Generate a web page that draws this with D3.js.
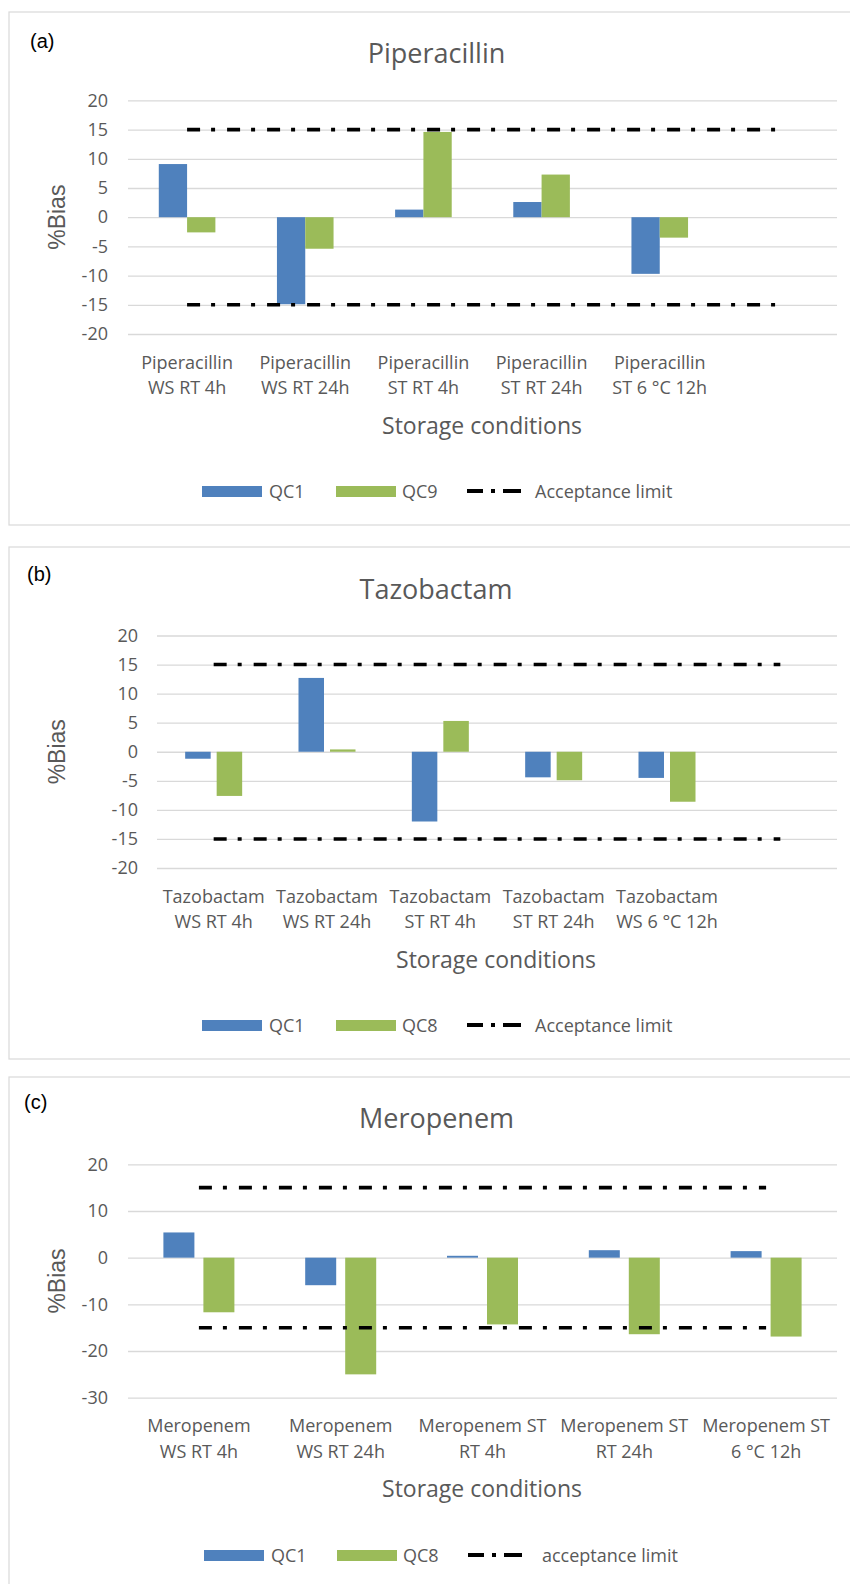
<!DOCTYPE html>
<html lang="en">
<head>
    <meta charset="UTF-8">
    <title>%Bias by storage condition</title>
    <style>
        body { margin: 0; background: #fff; }
        svg text { font-family: "Open Sans", sans-serif; fill: #595959; }
    </style>
</head>
<body>
    <div id="chart"></div>
    <script src="https://d3js.org/d3.v7.min.js"></script>
    <script>
        // ---- data ----
        const pipCategories = [
            ["Piperacillin", "WS RT 4h"], ["Piperacillin", "WS RT 24h"], ["Piperacillin", "ST RT 4h"],
            ["Piperacillin", "ST RT 24h"], ["Piperacillin", "ST 6 °C 12h"], ["", ""]
        ];
        const pipQC1 = [9.1, -14.9, 1.3, 2.6, -9.7];
        const pipQC9 = [-2.6, -5.4, 14.6, 7.3, -3.5];
        const pipUpper = [15, 15, 15, 15, 15, 15];
        const pipLower = [-15, -15, -15, -15, -15, -15];
        const pipTicks = [20, 15, 10, 5, 0, -5, -10, -15, -20];

        const tazCategories = [
            ["Tazobactam", "WS RT 4h"], ["Tazobactam", "WS RT 24h"], ["Tazobactam", "ST RT 4h"],
            ["Tazobactam", "ST RT 24h"], ["Tazobactam", "WS 6 °C 12h"], ["", ""]
        ];
        const tazQC1 = [-1.2, 12.7, -12.0, -4.4, -4.5];
        const tazQC8 = [-7.6, 0.4, 5.3, -4.9, -8.6];
        const tazUpper = [15, 15, 15, 15, 15, 15];
        const tazLower = [-15, -15, -15, -15, -15, -15];
        const tazTicks = [20, 15, 10, 5, 0, -5, -10, -15, -20];

        const merCategories = [
            ["Meropenem", "WS RT 4h"], ["Meropenem", "WS RT 24h"], ["Meropenem ST", "RT 4h"],
            ["Meropenem ST", "RT 24h"], ["Meropenem ST", "6 °C 12h"]
        ];
        const merQC1 = [5.4, -5.9, 0.4, 1.6, 1.4];
        const merQC8 = [-11.7, -25.0, -14.3, -16.4, -16.9];
        const merUpper = [15, 15, 15, 15, 15];
        const merLower = [-15, -15, -15, -15, -15];
        const merTicks = [20, 10, 0, -10, -20, -30];

        const blue = "#4f81bd";
        const green = "#9bbb59";

        const svg = d3.select("#chart")
            .append("svg")
            .attr("width", 850)
            .attr("height", 1584);

        function drawPanel(p) {
            const g = svg.append("g");

            g.append("rect")
                .attr("x", 9).attr("y", p.boxTop)
                .attr("width", 860).attr("height", p.boxBottom - p.boxTop)
                .attr("fill", "none").attr("stroke", "#d9d9d9").attr("stroke-width", 1.2);

            g.append("text")
                .attr("x", p.tagX).attr("y", p.tagY)
                .attr("dominant-baseline", "central")
                .style("font-family", "'Liberation Sans', Arial, sans-serif")
                .style("font-size", "20px").style("fill", "#000")
                .text(p.tag);

            const x = d3.scaleBand()
                .domain(d3.range(p.categories.length))
                .range([p.left, p.right]);
            const y = d3.scaleLinear()
                .domain(p.domain)
                .range([p.bottom, p.top]);

            g.append("text")
                .attr("x", (p.left + p.right) / 2 - p.titleShift).attr("y", p.titleY)
                .attr("text-anchor", "middle").attr("dominant-baseline", "central")
                .style("font-size", "27px")
                .text(p.title);

            // gridlines + tick labels
            const axis = g.append("g")
                .attr("transform", `translate(${p.left},0)`)
                .call(d3.axisLeft(y)
                    .tickValues(p.ticks)
                    .tickSize(-(p.right - p.left))
                    .tickPadding(p.left - p.labelRight)
                    .tickFormat(d => String(d)));
            axis.select(".domain").remove();
            axis.selectAll("line").attr("stroke", "#d9d9d9").attr("stroke-width", 1.3);
            axis.selectAll("text")
                .style("font-family", "'Open Sans', sans-serif")
                .style("font-size", "18px").attr("fill", "#595959");

            // bars
            const pairW = 2 * p.barW + p.barGap;
            const series = [{vals: p.qc1, color: blue, off: 0}, {vals: p.qc2, color: green, off: p.barW + p.barGap}];
            series.forEach(s => {
                g.selectAll(null)
                    .data(s.vals)
                    .enter()
                    .append("rect")
                    .attr("x", (d, i) => x(i) + x.bandwidth() / 2 - pairW / 2 + s.off)
                    .attr("width", p.barW)
                    .attr("y", d => y(Math.max(0, d)))
                    .attr("height", d => Math.abs(y(d) - y(0)))
                    .attr("fill", s.color);
            });

            // acceptance limits
            const line = d3.line()
                .x((d, i) => x(i) + x.bandwidth() / 2)
                .y(d => y(d));
            [p.upper, p.lower].forEach(lim => {
                g.append("path")
                    .datum(lim)
                    .attr("d", line)
                    .attr("fill", "none")
                    .attr("stroke", "#000")
                    .attr("stroke-width", 3.6)
                    .attr("stroke-dasharray", "13,11,4,12");
            });

            // category labels
            const cats = g.selectAll(null)
                .data(p.categories)
                .enter()
                .append("text")
                .attr("text-anchor", "middle")
                .style("font-size", "18px");
            cats.append("tspan")
                .attr("x", (d, i) => x(i) + x.bandwidth() / 2)
                .attr("y", p.catY1)
                .attr("dominant-baseline", "central")
                .text(d => d[0]);
            cats.append("tspan")
                .attr("x", (d, i) => x(i) + x.bandwidth() / 2)
                .attr("y", p.catY2)
                .attr("dominant-baseline", "central")
                .text(d => d[1]);

            g.append("text")
                .attr("x", p.axisTitleX).attr("y", p.axisTitleY)
                .attr("text-anchor", "middle").attr("dominant-baseline", "central")
                .style("font-size", "23px")
                .text("Storage conditions");

            g.append("text")
                .attr("transform", `translate(57,${y(p.yTitleAt)}) rotate(-90)`)
                .attr("text-anchor", "middle").attr("dominant-baseline", "central")
                .style("font-family", "'Liberation Sans', Arial, sans-serif")
                .style("font-size", "23px")
                .text("%Bias");

            // legend
            const lg = g.append("g").attr("transform", `translate(0,${p.legendY})`);
            lg.append("rect").attr("x", p.legX[0]).attr("y", -5).attr("width", 60).attr("height", 11).attr("fill", blue);
            lg.append("text").attr("x", p.legX[0] + 67).attr("y", 0).attr("dominant-baseline", "central")
                .style("font-size", "18px").text("QC1");
            lg.append("rect").attr("x", p.legX[1]).attr("y", -5).attr("width", 60).attr("height", 11).attr("fill", green);
            lg.append("text").attr("x", p.legX[1] + 66).attr("y", 0).attr("dominant-baseline", "central")
                .style("font-size", "18px").text(p.qc2Name);
            lg.append("line").attr("x1", p.legX[2]).attr("x2", p.legX[2] + 54).attr("y1", 0).attr("y2", 0)
                .attr("stroke", "#000").attr("stroke-width", 4).attr("stroke-dasharray", "16,8,4,8,18");
            lg.append("text").attr("x", p.legX[3]).attr("y", 0).attr("dominant-baseline", "central")
                .style("font-size", "18px").text(p.limitName);
        }

        drawPanel({
            tag: "(a)", tagX: 30, tagY: 41, title: "Piperacillin", titleY: 52, titleShift: 46,
            boxTop: 12, boxBottom: 525,
            categories: pipCategories, qc1: pipQC1, qc2: pipQC9, qc2Name: "QC9",
            upper: pipUpper, lower: pipLower, ticks: pipTicks, domain: [-20, 20], yTitleAt: 0,
            left: 128, right: 837, top: 100.4, bottom: 334, labelRight: 108,
            barW: 28.3, barGap: 0,
            catY1: 362, catY2: 387, axisTitleX: 482, axisTitleY: 425,
            legendY: 491, legX: [202, 336, 467, 535], limitName: "Acceptance limit"
        });

        drawPanel({
            tag: "(b)", tagX: 27, tagY: 574, title: "Tazobactam", titleY: 588, titleShift: 61,
            boxTop: 547, boxBottom: 1059,
            categories: tazCategories, qc1: tazQC1, qc2: tazQC8, qc2Name: "QC8",
            upper: tazUpper, lower: tazLower, ticks: tazTicks, domain: [-20, 20], yTitleAt: 0,
            left: 157, right: 837, top: 635.5, bottom: 868, labelRight: 138,
            barW: 25.5, barGap: 6,
            catY1: 896, catY2: 921, axisTitleX: 496, axisTitleY: 959,
            legendY: 1025, legX: [202, 336, 467, 535], limitName: "Acceptance limit"
        });

        drawPanel({
            tag: "(c)", tagX: 24, tagY: 1102, title: "Meropenem", titleY: 1117, titleShift: 46,
            boxTop: 1077, boxBottom: 1600,
            categories: merCategories, qc1: merQC1, qc2: merQC8, qc2Name: "QC8",
            upper: merUpper, lower: merLower, ticks: merTicks, domain: [-30, 20], yTitleAt: -5,
            left: 128, right: 837, top: 1164.3, bottom: 1397.7, labelRight: 108,
            barW: 31, barGap: 9,
            catY1: 1425, catY2: 1451, axisTitleX: 482, axisTitleY: 1488,
            legendY: 1555, legX: [204, 337, 468, 542], limitName: "acceptance limit"
        });
    </script>
</body>
</html>
